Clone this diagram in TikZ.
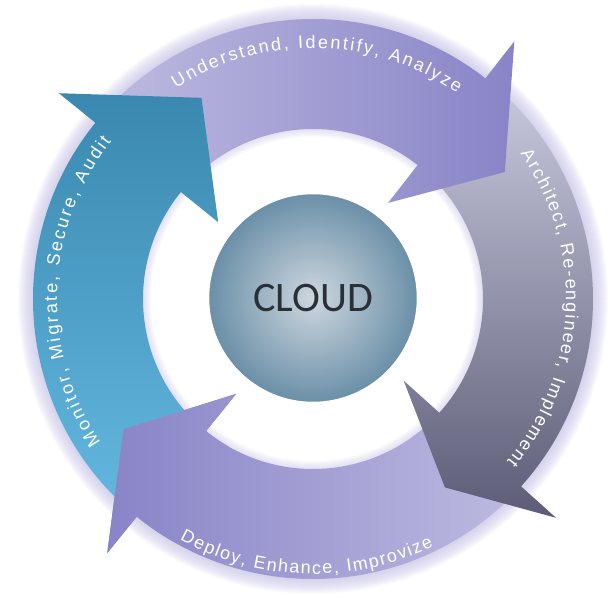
\documentclass[tikz,border=0pt]{standalone}
\usepackage{fontspec}
\setmainfont{Liberation Sans}
\newfontfamily\hubfont{Carlito}
\usetikzlibrary{decorations.text}

\definecolor{bluelight}{HTML}{62B6DE}
\definecolor{bluedark}{HTML}{3A88B0}
\definecolor{lavlight}{HTML}{BCB9E0}
\definecolor{lavdark}{HTML}{8884C7}
\definecolor{slatelight}{HTML}{C6C6DC}
\definecolor{slatedark}{HTML}{5C5C76}
\definecolor{halocol}{HTML}{C9C5EA}
\definecolor{hubin}{HTML}{CDD7DF}
\definecolor{hubout}{HTML}{6A8FA7}
\definecolor{hubtext}{HTML}{2B3036}

\begin{document}
\begin{tikzpicture}[x=1pt, y=1pt]
\tikzstyle{halo} = [draw=halocol, opacity=0.07]
\tikzstyle{bluearrow} = [top color=bluedark, bottom color=bluelight]
\tikzstyle{toparrow} = [left color=lavlight, right color=lavdark]
\tikzstyle{grayarrow} = [top color=slatelight, bottom color=slatedark]
\tikzstyle{lowarrow} = [left color=lavdark, right color=lavlight]
\tikzstyle{arctext} = [decorate, decoration={text along path, text align=fit to path, text color=white}]
\tikzstyle{hub} = [circle, minimum size=210pt, inner color=hubin, outer color=hubout, draw=white, line width=2.5pt, font=\hubfont\fontsize{42}{42}\selectfont, text=hubtext]

% one ring arrow: style, tail angle, head angle, tip angle
\def\ringarrow#1#2#3#4{
\shade[#1] (#2:280pt) arc[start angle=#2, end angle=#3, radius=280pt] -- (#3:327pt) -- (#4:230pt) -- (#3:122pt) -- (#3:170pt) arc[start angle=#3, end angle=#2, radius=170pt] -- cycle;
}

\useasboundingbox (-313pt,-298pt) rectangle (303pt,299pt);
\fill[white] (-313pt,-298pt) rectangle (303pt,299pt);

% soft glow round the ring
\foreach \w in {2,4,...,30} {
\draw[halo, line width=\w pt] (0,0) circle[radius=280pt];
}
\foreach \w in {2,4,...,16} {
\draw[halo, line width=\w pt] (0,0) circle[radius=170pt];
}

\ringarrow{lowarrow}{-44}{-129}{-145.5}
\ringarrow{grayarrow}{48}{-42}{-55}
\ringarrow{toparrow}{136}{52}{33.5}
\ringarrow{bluearrow}{226}{141}{119}
% the lower arrow's head lies over the blue tail
\begin{scope}
\clip (0,0) -- (195:400pt) arc[start angle=195, end angle=240, radius=400pt] -- cycle;
\ringarrow{lowarrow}{-44}{-129}{-145.5}
\end{scope}

\node[hub] (cloud) at (0,1pt) {CLOUD};

% labels along the arcs
\path[arctext, decoration={text={|\fontsize{18}{18}\selectfont|Understand, Identify, Analyze}}] (123:251pt) arc[start angle=123, end angle=55, radius=251pt];
\path[arctext, decoration={text={|\fontsize{18}{18}\selectfont|Architect, Re-engineer, Implement}}] (35:253pt) arc[start angle=35, end angle=-40, radius=253pt];
\path[arctext, decoration={text={|\fontsize{18}{18}\selectfont|Deploy, Enhance, Improvize}}] (241:275pt) arc[start angle=241, end angle=296, radius=275pt];
\path[arctext, decoration={text={|\fontsize{18}{18}\selectfont|Monitor, Migrate, Secure, Audit}}] (214:256pt) arc[start angle=214, end angle=142, radius=256pt];
\end{tikzpicture}
\end{document}
